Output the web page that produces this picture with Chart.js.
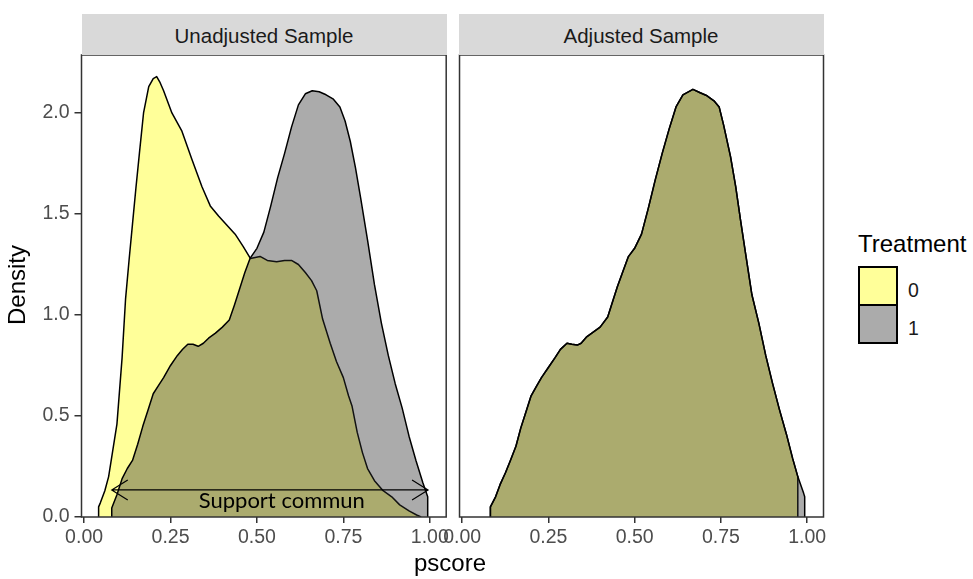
<!DOCTYPE html>
<html>
<head>
<meta charset="utf-8">
<script src="https://cdn.jsdelivr.net/npm/chart.js@4.4.0/dist/chart.umd.min.js"></script>
<style>
    body { margin: 0; background: #fff; }
    #wrap { position: relative; width: 973px; height: 579px; font-family: "Liberation Sans", Arial, sans-serif; }
    canvas { position: absolute; top: 0; }
    .strip { position: absolute; top: 14px; height: 41px; background: #d9d9d9; color: #1a1a1a;
             font-size: 20.5px; line-height: 43px; text-align: center; white-space: nowrap; }
    .title { position: absolute; color: #000; font-size: 24px; line-height: 24px; white-space: nowrap; }
    .key { position: absolute; left: 858px; width: 36px; height: 36px; border: 2.5px solid #000; }
    .keylab { position: absolute; left: 908px; font-size: 19.5px; line-height: 19.5px; color: #1a1a1a; }
</style>
</head>
<body>
<div id="wrap">
    <canvas id="left" width="452" height="579" style="left:0px"></canvas>
    <canvas id="right" width="400" height="579" style="left:440px"></canvas>

    <div class="strip" style="left:81.5px; width:365px;">Unadjusted Sample</div>
    <div class="strip" style="left:458.5px; width:365px;">Adjusted Sample</div>

    <div class="title" style="left:-23px; top:273px; width:80px; text-align:center; transform:rotate(-90deg);">Density</div>
    <div class="title" style="left:400px; top:551px; width:100px; text-align:center;">pscore</div>

    <div class="title" style="left:858px; top:232px;">Treatment</div>
    <div class="key" style="top:266px; background:#ffff99;"></div>
    <div class="key" style="top:304px; background:#ababab;"></div>
    <div class="keylab" style="top:281px;">0</div>
    <div class="keylab" style="top:319px;">1</div>
</div>

<script>
// Axes
const xTicks = [0, 0.25, 0.5, 0.75, 1];
const xTickLabels = ['0.00', '0.25', '0.50', '0.75', '1.00'];
const yTicks = [0, 0.5, 1, 1.5, 2];
const yTickLabels = ['0.0', '0.5', '1.0', '1.5', '2.0'];
const xLimits = [-0.0075, 1.0475];
const yLimits = [0, 2.287];

// Unadjusted sample, Treatment = 0
const unadjControlX = [0.042, 0.042, 0.047, 0.060, 0.071, 0.083, 0.095, 0.110, 0.120, 0.130, 0.140, 0.150,
    0.160, 0.172, 0.187, 0.200, 0.210, 0.220, 0.230, 0.254, 0.283, 0.312, 0.341, 0.365, 0.389, 0.410,
    0.437, 0.460, 0.481, 0.509, 0.530, 0.557, 0.580, 0.600, 0.620, 0.640, 0.658, 0.673, 0.690, 0.712,
    0.730, 0.750, 0.765, 0.775, 0.790, 0.805, 0.820, 0.840, 0.865, 0.890, 0.913, 0.940, 0.962, 0.975];
const unadjControlY = [0, 0.05, 0.07, 0.13, 0.20, 0.33, 0.46, 0.79, 1.08, 1.27, 1.45, 1.63,
    1.80, 2.00, 2.13, 2.17, 2.18, 2.15, 2.11, 2.00, 1.91, 1.77, 1.635, 1.54, 1.49, 1.45,
    1.40, 1.34, 1.28, 1.29, 1.27, 1.264, 1.27, 1.27, 1.25, 1.21, 1.17, 1.12, 0.98, 0.86,
    0.77, 0.69, 0.60, 0.55, 0.42, 0.32, 0.24, 0.18, 0.13, 0.10, 0.06, 0.03, 0.01, 0];

// Unadjusted sample, Treatment = 1
const unadjTreatedX = [0.080, 0.080, 0.095, 0.110, 0.125, 0.140, 0.155, 0.170, 0.185, 0.200, 0.215, 0.230,
    0.250, 0.270, 0.285, 0.300, 0.315, 0.330, 0.345, 0.360, 0.380, 0.400, 0.420, 0.435, 0.450, 0.465,
    0.480, 0.500, 0.520, 0.540, 0.560, 0.580, 0.600, 0.620, 0.640, 0.660, 0.680, 0.700, 0.720, 0.740,
    0.755, 0.770, 0.785, 0.800, 0.820, 0.840, 0.860, 0.880, 0.900, 0.920, 0.940, 0.960, 0.980, 0.994, 0.994];
const unadjTreatedY = [0, 0.045, 0.11, 0.19, 0.24, 0.28, 0.36, 0.45, 0.53, 0.61, 0.65, 0.69,
    0.75, 0.80, 0.83, 0.855, 0.855, 0.845, 0.86, 0.885, 0.91, 0.94, 0.975, 1.05, 1.13, 1.21,
    1.28, 1.33, 1.41, 1.54, 1.68, 1.80, 1.93, 2.04, 2.095, 2.11, 2.105, 2.09, 2.07, 2.03,
    1.96, 1.86, 1.73, 1.58, 1.37, 1.15, 0.96, 0.80, 0.66, 0.54, 0.40, 0.28, 0.17, 0.10, 0];

// Adjusted sample, Treatment = 0 (weighted)
const adjControlX = [0.082, 0.082, 0.097, 0.110, 0.126, 0.140, 0.156, 0.170, 0.185, 0.200, 0.215, 0.230,
    0.250, 0.270, 0.285, 0.304, 0.318, 0.334, 0.345, 0.360, 0.380, 0.400, 0.422, 0.437, 0.450, 0.465,
    0.482, 0.500, 0.520, 0.540, 0.560, 0.580, 0.600, 0.620, 0.640, 0.669, 0.690, 0.710, 0.730, 0.745,
    0.758, 0.778, 0.793, 0.807, 0.822, 0.840, 0.860, 0.880, 0.900, 0.920, 0.940, 0.958, 0.973, 0.973];
const adjControlY = [0, 0.05, 0.10, 0.16, 0.22, 0.28, 0.35, 0.44, 0.52, 0.60, 0.645, 0.69,
    0.74, 0.79, 0.83, 0.86, 0.855, 0.851, 0.86, 0.89, 0.915, 0.94, 0.99, 1.07, 1.14, 1.21,
    1.289, 1.33, 1.40, 1.53, 1.67, 1.80, 1.92, 2.03, 2.09, 2.117, 2.10, 2.085, 2.06, 2.03,
    1.94, 1.784, 1.635, 1.47, 1.30, 1.10, 0.96, 0.80, 0.66, 0.53, 0.41, 0.29, 0.20, 0];

// Adjusted sample, Treatment = 1
const adjTreatedX = [0.082, 0.082, 0.097, 0.110, 0.126, 0.140, 0.156, 0.170, 0.185, 0.200, 0.215, 0.230,
    0.250, 0.270, 0.285, 0.304, 0.318, 0.334, 0.345, 0.360, 0.380, 0.400, 0.422, 0.437, 0.450, 0.465,
    0.482, 0.500, 0.520, 0.540, 0.560, 0.580, 0.600, 0.620, 0.640, 0.669, 0.690, 0.710, 0.730, 0.745,
    0.758, 0.778, 0.793, 0.807, 0.822, 0.840, 0.860, 0.880, 0.900, 0.920, 0.940, 0.958, 0.973, 0.990, 0.993, 0.993];
const adjTreatedY = [0, 0.05, 0.10, 0.16, 0.22, 0.28, 0.35, 0.44, 0.52, 0.60, 0.645, 0.69,
    0.74, 0.79, 0.83, 0.86, 0.855, 0.851, 0.86, 0.89, 0.915, 0.94, 0.99, 1.07, 1.14, 1.21,
    1.289, 1.33, 1.40, 1.53, 1.67, 1.80, 1.92, 2.03, 2.09, 2.117, 2.10, 2.085, 2.06, 2.03,
    1.94, 1.784, 1.635, 1.47, 1.30, 1.10, 0.96, 0.80, 0.66, 0.53, 0.41, 0.29, 0.20, 0.117, 0.10, 0];

// Annotation on the unadjusted panel
const supportArrow = { from: 0.08, to: 0.995, y: 0.134 };
const supportLabel = { text: 'Support commun', x: 0.572, y: 0.079 };

const FONT = '"Liberation Sans", Arial, sans-serif';
const controlFill = 'rgba(255, 255, 0, 0.4)';
const treatedFill = 'rgba(45, 45, 45, 0.4)';

function toPoints(xs, ys) {
    return xs.map((x, i) => ({ x: x, y: ys[i] }));
}

function densitySet(label, xs, ys, fill, order) {
    return {
        label: label,
        data: toPoints(xs, ys),
        backgroundColor: fill,
        borderColor: '#000',
        borderWidth: 1.5,
        borderJoinStyle: 'round',
        fill: 'origin',
        tension: 0,
        pointRadius: 0,
        order: order
    };
}

// рамка панели
const panelFrame = {
    id: 'panelFrame',
    afterDatasetsDraw(chart) {
        const a = chart.chartArea;
        const ctx = chart.ctx;
        ctx.save();
        ctx.strokeStyle = '#333';
        ctx.lineWidth = 1.5;
        ctx.strokeRect(a.left, a.top, a.right - a.left, a.bottom - a.top);
        ctx.restore();
    }
};

// стрелка "Support commun"
const supportPlugin = {
    id: 'supportPlugin',
    afterDatasetsDraw(chart) {
        const xs = chart.scales.x, ys = chart.scales.y;
        const ctx = chart.ctx;
        const x1 = xs.getPixelForValue(supportArrow.from);
        const x2 = xs.getPixelForValue(supportArrow.to);
        const y = ys.getPixelForValue(supportArrow.y);
        ctx.save();
        ctx.strokeStyle = '#000';
        ctx.lineWidth = 1.2;
        ctx.beginPath();
        ctx.moveTo(x1, y); ctx.lineTo(x2, y);
        ctx.moveTo(x1 + 16, y - 10); ctx.lineTo(x1, y); ctx.lineTo(x1 + 16, y + 10);
        ctx.moveTo(x2 - 16, y - 10); ctx.lineTo(x2, y); ctx.lineTo(x2 - 16, y + 10);
        ctx.stroke();
        ctx.fillStyle = '#000';
        ctx.font = '22px Lato, "Open Sans", sans-serif';
        ctx.textAlign = 'center';
        ctx.textBaseline = 'middle';
        ctx.fillText(supportLabel.text, xs.getPixelForValue(supportLabel.x), ys.getPixelForValue(supportLabel.y));
        ctx.restore();
    }
};

function makePanel(canvasId, control, treated, showY, padding, extraPlugins) {
    const ctx = document.getElementById(canvasId).getContext('2d');
    return new Chart(ctx, {
        type: 'line',
        data: {
            datasets: [
                densitySet('0', control[0], control[1], controlFill, 2),
                densitySet('1', treated[0], treated[1], treatedFill, 1)
            ]
        },
        options: {
            responsive: false,
            animation: false,
            events: [],
            layout: { padding: padding },
            plugins: {
                legend: { display: false },
                tooltip: { enabled: false }
            },
            scales: {
                x: {
                    type: 'linear',
                    min: xLimits[0],
                    max: xLimits[1],
                    afterBuildTicks: s => { s.ticks = xTicks.map(v => ({ value: v })); },
                    afterFit: s => { s.height = 62; },
                    grid: { display: true, drawOnChartArea: false, drawTicks: true, tickLength: 6, color: '#333', lineWidth: 1.5 },
                    border: { display: false },
                    ticks: {
                        color: '#4d4d4d', padding: 3, maxRotation: 0, autoSkip: false,
                        font: { family: FONT, size: 19.5 },
                        callback: v => xTickLabels[xTicks.indexOf(v)]
                    }
                },
                y: {
                    type: 'linear',
                    display: showY,
                    min: yLimits[0],
                    max: yLimits[1],
                    afterBuildTicks: s => { s.ticks = yTicks.map(v => ({ value: v })); },
                    afterFit: s => { s.width = showY ? 81.5 : 0; },
                    grid: { display: true, drawOnChartArea: false, drawTicks: true, tickLength: 7, color: '#333', lineWidth: 1.5 },
                    border: { display: false },
                    ticks: {
                        color: '#4d4d4d', padding: 5, autoSkip: false,
                        font: { family: FONT, size: 19.5 },
                        callback: v => yTickLabels[yTicks.indexOf(v)]
                    }
                }
            }
        },
        plugins: [panelFrame].concat(extraPlugins)
    });
}

makePanel('left', [unadjControlX, unadjControlY], [unadjTreatedX, unadjTreatedY], true,
    { top: 55, right: 5.5, left: 0, bottom: 0 }, [supportPlugin]);
makePanel('right', [adjControlX, adjControlY], [adjTreatedX, adjTreatedY], false,
    { top: 55, right: 16.5, left: 18.5, bottom: 0 }, []);
</script>
</body>
</html>
